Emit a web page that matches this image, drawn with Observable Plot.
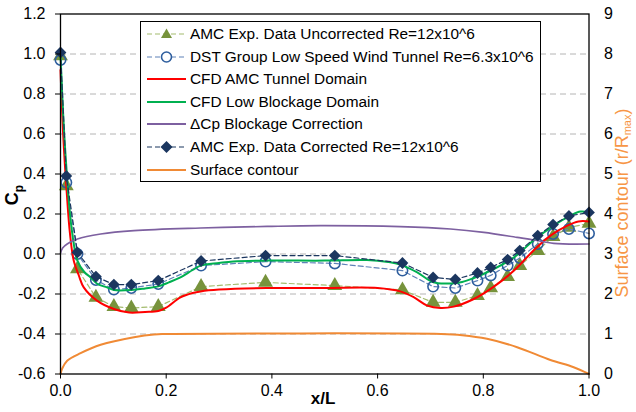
<!DOCTYPE html>
<html><head><meta charset="utf-8">
<script src="https://cdn.jsdelivr.net/npm/d3@7"></script>
<script src="https://cdn.jsdelivr.net/npm/@observablehq/plot@0.6"></script>
<style>
body{margin:0;background:#fff;font-family:"Liberation Sans",Arial,sans-serif;}
#wrap{position:relative;width:636px;height:412px;overflow:hidden;}
#legend{position:absolute;left:140px;top:21px;width:399px;height:159px;border:1px solid #000;background:#fff;}
.row{position:absolute;left:0;height:22px;width:398px;}
.row svg{position:absolute;left:0;top:0;}
.row span{position:absolute;left:49px;top:2px;font-size:15.4px;color:#000;white-space:nowrap;line-height:18px;}
.lab{position:absolute;white-space:nowrap;line-height:1.2;}
</style></head><body><div id="wrap"></div>
<script>
// ---- data ----
const expX = [0, 0.011, 0.032, 0.067, 0.101, 0.134, 0.185, 0.266, 0.388, 0.519, 0.647, 0.705, 0.747, 0.789, 0.814, 0.846, 0.869, 0.903, 0.932, 0.962, 1.0];
const uncorrectedCp = [0.99, 0.34, -0.075, -0.217, -0.263, -0.27, -0.263, -0.163, -0.142, -0.158, -0.18, -0.242, -0.242, -0.208, -0.17, -0.113, -0.058, 0.017, 0.087, 0.133, 0.153];
const dstCp = [0.97, 0.358, 0.0, -0.13, -0.178, -0.17, -0.15, -0.058, -0.038, -0.047, -0.083, -0.163, -0.17, -0.133, -0.107, -0.058, -0.02, 0.05, 0.1, 0.125, 0.103];
const correctedCp = [1.008, 0.39, 0.008, -0.113, -0.153, -0.153, -0.133, -0.035, -0.008, -0.008, -0.045, -0.117, -0.127, -0.095, -0.067, -0.028, 0.017, 0.092, 0.147, 0.19, 0.208];

const cfdTunnelX = [0, 0.005, 0.012, 0.018, 0.025, 0.035, 0.044, 0.069, 0.101, 0.13, 0.16, 0.185, 0.2, 0.227, 0.25, 0.265, 0.3, 0.39, 0.5, 0.6, 0.643, 0.669, 0.694, 0.719, 0.744, 0.782, 0.82, 0.858, 0.896, 0.927, 0.959, 0.98, 1.0];
const cfdTunnelCp = [0.92, 0.6, 0.3, 0.1, -0.033, -0.11, -0.167, -0.233, -0.275, -0.293, -0.29, -0.285, -0.268, -0.217, -0.195, -0.187, -0.178, -0.17, -0.17, -0.17, -0.187, -0.217, -0.258, -0.27, -0.263, -0.225, -0.163, -0.083, 0.02, 0.092, 0.142, 0.163, 0.163];

const cfdLowX = [0, 0.005, 0.012, 0.02, 0.032, 0.045, 0.057, 0.07, 0.088, 0.101, 0.134, 0.16, 0.185, 0.205, 0.227, 0.25, 0.265, 0.3, 0.327, 0.391, 0.5, 0.58, 0.62, 0.643, 0.675, 0.706, 0.738, 0.76, 0.782, 0.82, 0.858, 0.896, 0.933, 0.965, 0.984, 1.0];
const cfdLowCp = [1.0, 0.7, 0.4, 0.15, -0.033, -0.09, -0.117, -0.15, -0.167, -0.18, -0.18, -0.172, -0.162, -0.142, -0.117, -0.08, -0.058, -0.045, -0.037, -0.033, -0.033, -0.03, -0.04, -0.053, -0.092, -0.142, -0.147, -0.14, -0.12, -0.075, -0.017, 0.07, 0.142, 0.192, 0.212, 0.208];

const deltaX = [0, 0.004, 0.0126, 0.032, 0.076, 0.139, 0.265, 0.391, 0.492, 0.643, 0.738, 0.801, 0.864, 0.896, 0.933, 1.0];
const deltaCp = [0.003, 0.03, 0.05, 0.075, 0.1, 0.117, 0.13, 0.138, 0.142, 0.137, 0.125, 0.108, 0.083, 0.07, 0.053, 0.05];

const contourX = [0, 0.003, 0.0126, 0.038, 0.076, 0.139, 0.177, 0.2, 0.72, 0.76, 0.807, 0.864, 0.927, 0.971, 1.0];
const contourR = [0, 0.13, 0.33, 0.52, 0.73, 0.92, 0.99, 1.0, 1.0, 0.97, 0.88, 0.67, 0.35, 0.17, 0];

const xTicks = [0, 0.2, 0.4, 0.6, 0.8, 1.0];
const cpTicks = [-0.6, -0.4, -0.2, 0, 0.2, 0.4, 0.6, 0.8, 1.0, 1.2];
const contourTicks = [0, 1, 2, 3, 4, 5, 6, 7, 8, 9];

const legendLabels = [
  "AMC Exp. Data Uncorrected Re=12x10^6",
  "DST Group Low Speed Wind Tunnel Re=6.3x10^6",
  "CFD AMC Tunnel Domain",
  "CFD Low Blockage Domain",
  "\u0394Cp Blockage Correction",
  "AMC Exp. Data Corrected Re=12x10^6",
  "Surface contour"
];

// ---- colours ----
const C = {
  unc: "#77933C", uncLine: "#A4BC6E",
  dst: "#2E5E9E", dstLine: "#5F82B8",
  red: "#FF0000", green: "#00B050", purple: "#7D60A0",
  cor: "#1B365F", orange: "#F08A35", orangeText: "#F79646"
};

// contour -> Cp space mapping (shared gridlines: 0..9 <-> -0.6..1.2)
const rToCp = r => r / 5 - 0.6;

const pts = (xs, ys) => xs.map((x, i) => ({x, y: ys[i]}));
const unc = pts(expX, uncorrectedCp);
const dst = pts(expX, dstCp);
const cor = pts(expX, correctedCp);
const tun = pts(cfdTunnelX, cfdTunnelCp);
const low = pts(cfdLowX, cfdLowCp);
const del = pts(deltaX, deltaCp);
const con = contourX.map((x, i) => ({x, y: rToCp(contourR[i])}));

const chart = Plot.plot({
  width: 636, height: 412,
  marginLeft: 60, marginRight: 47.5, marginTop: 13.5, marginBottom: 38.5,
  style: {fontSize: "16px", fontFamily: "'Liberation Sans', Arial, sans-serif", color: "#000", background: "#fff"},
  x: {domain: [0, 1]},
  y: {domain: [-0.6, 1.2]},
  marks: [
    Plot.ruleY(cpTicks.filter(d => d > -0.6 && d < 1.2), {stroke: "#b4b4b4", strokeDasharray: "6,4", strokeWidth: 1}),
    Plot.line(unc, {x: "x", y: "y", stroke: C.uncLine, strokeWidth: 1.2, strokeDasharray: "5,3"}),
    Plot.dot(unc, {x: "x", y: "y", symbol: "triangle", r: 5.5, fill: C.unc, stroke: "none"}),
    Plot.line(dst, {x: "x", y: "y", stroke: C.dstLine, strokeWidth: 1.2, strokeDasharray: "5,3"}),
    Plot.dot(dst, {x: "x", y: "y", symbol: "circle", r: 5.2, fill: "none", stroke: C.dst, strokeWidth: 1.6}),
    Plot.line(tun, {x: "x", y: "y", stroke: C.red, strokeWidth: 2, curve: "catmull-rom"}),
    Plot.line(low, {x: "x", y: "y", stroke: C.green, strokeWidth: 2, curve: "catmull-rom"}),
    Plot.line(del, {x: "x", y: "y", stroke: C.purple, strokeWidth: 1.6, curve: "catmull-rom"}),
    Plot.line(cor, {x: "x", y: "y", stroke: C.cor, strokeWidth: 1.2, strokeDasharray: "5,3"}),
    Plot.dot(cor, {x: "x", y: "y", symbol: "diamond2", r: 5.3, fill: C.cor, stroke: "none"}),
    Plot.line(con, {x: "x", y: "y", stroke: C.orange, strokeWidth: 2, curve: "catmull-rom"}),
    Plot.frame({stroke: "#000", strokeWidth: 1.3}),
    Plot.axisY(cpTicks, {anchor: "left", tickSize: 5, tickPadding: 10, tickFormat: d => d.toFixed(1), label: null, stroke: "#000"}),
    Plot.axisY(contourTicks.map(rToCp), {anchor: "right", tickSize: 0, tickPadding: 15, tickFormat: d => String(Math.round((d + 0.6) * 5)), label: null}),
    Plot.axisX(xTicks, {anchor: "bottom", tickSize: 5, tickPadding: 6, tickFormat: d => d.toFixed(1), label: null, stroke: "#000"})
  ]
});

const wrap = document.getElementById("wrap");
wrap.appendChild(chart);

// axis titles
const cpLab = document.createElement("div");
cpLab.className = "lab";
cpLab.style.cssText = "left:14px;top:195px;font-size:18px;font-weight:bold;transform:translate(-50%,-50%) rotate(-90deg);";
cpLab.innerHTML = "C<sub style='font-size:12px'>p</sub>";
wrap.appendChild(cpLab);

const xLab = document.createElement("div");
xLab.className = "lab";
xLab.style.cssText = "left:323px;top:399px;font-size:17px;font-weight:bold;transform:translate(-50%,-50%);";
xLab.textContent = "x/L";
wrap.appendChild(xLab);

const rLab = document.createElement("div");
rLab.className = "lab";
rLab.style.cssText = "left:623px;top:203px;font-size:18px;color:" + C.orangeText + ";transform:translate(-50%,-50%) rotate(-90deg);";
rLab.innerHTML = "Surface contour (r/R<sub style='font-size:11px;vertical-align:-3px'>max</sub>)";
wrap.appendChild(rLab);

// legend
const legend = document.createElement("div");
legend.id = "legend";
const sym = [
  `<line x1="6" y1="11" x2="45" y2="11" stroke="${C.uncLine}" stroke-width="1.2" stroke-dasharray="5,3"/><path d="M25.5,5.5 L31,15 L20,15 Z" fill="${C.unc}"/>`,
  `<line x1="6" y1="11" x2="45" y2="11" stroke="${C.dstLine}" stroke-width="1.2" stroke-dasharray="5,3"/><circle cx="25.5" cy="11" r="5" fill="#fff" stroke="${C.dst}" stroke-width="1.6"/>`,
  `<line x1="6" y1="11" x2="45" y2="11" stroke="${C.red}" stroke-width="2"/>`,
  `<line x1="6" y1="11" x2="45" y2="11" stroke="${C.green}" stroke-width="2"/>`,
  `<line x1="6" y1="11" x2="45" y2="11" stroke="${C.purple}" stroke-width="1.8"/>`,
  `<line x1="6" y1="11" x2="45" y2="11" stroke="${C.cor}" stroke-width="1.2" stroke-dasharray="5,3"/><path d="M25.5,5 L31.5,11 L25.5,17 L19.5,11 Z" fill="${C.cor}"/>`,
  `<line x1="6" y1="11" x2="45" y2="11" stroke="${C.orange}" stroke-width="2"/>`
];
legendLabels.forEach((t, i) => {
  const row = document.createElement("div");
  row.className = "row";
  row.style.top = (1 + i * 22.6) + "px";
  row.innerHTML = `<svg width="50" height="22">${sym[i]}</svg><span></span>`;
  row.querySelector("span").textContent = t;
  legend.appendChild(row);
});
wrap.appendChild(legend);
</script>
</body></html>
